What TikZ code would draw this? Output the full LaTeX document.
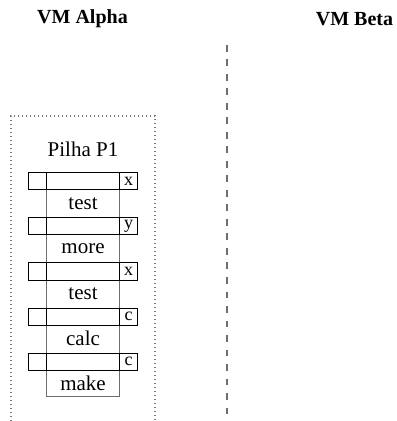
\documentclass[tikz,border=0pt]{standalone}
\usepackage{fontspec}
\setmainfont{Liberation Serif}
\usetikzlibrary{positioning,calc}
\definecolor{VMgray}{RGB}{110,110,110}
\definecolor{VMdot}{RGB}{120,120,120}
\tikzset{
  vmtitle/.style={font=\fontsize{10}{12}\selectfont\bfseries,inner sep=0pt},
  vmsep/.style={draw=VMgray,line width=0.55pt,dash pattern=on 3.4pt off 3.85pt},
  hostbox/.style={draw=VMdot,line width=0.6pt,dash pattern=on 0.5pt off 1.5pt},
  stackcol/.style={draw=VMgray,line width=0.5pt,minimum width=36.2pt,
                   minimum height=111.75pt,anchor=north,inner sep=0pt},
  frame/.style={draw=black,fill=white,line width=0.5pt,minimum width=54.2pt,
                minimum height=8.5pt,anchor=north,inner sep=0pt},
  framediv/.style={draw=black,line width=0.5pt},
  varlbl/.style={font=\fontsize{9}{10}\selectfont,inner sep=0pt},
  fnlbl/.style={font=\fontsize{10.5}{12}\selectfont,inner sep=0pt},
  stacklbl/.style={font=\fontsize{10.5}{12}\selectfont,inner sep=0pt}
}
\begin{document}
\begin{tikzpicture}[x=0.5pt,y=-0.5pt]
  \useasboundingbox (0,0) rectangle (396,421);
  % machines
  \node[vmtitle] (alpha) at (82.5,19) {VM Alpha};
  \node[vmtitle] (beta) at (354.5,19) {VM Beta};
  \coordinate (septop) at (227,45);
  \coordinate (sepbot) at (227,421);
  \draw[vmsep] (septop) -- (sepbot);
  % host of the stack
  \coordinate (hostsw) at (11,421);
  \coordinate (hostne) at (155,116);
  \draw[hostbox] (hostsw) |- (hostne) -- (hostne |- hostsw);
  \node[stacklbl] (pilha) at (83,149) {Pilha P1};
  % stack frames
  \node[stackcol] (stack) at (83,172.5) {};
  \foreach \var/\fn [count=\i] in {x/test,y/more,x/test,c/calc,c/make}{
    \node[frame] (f\i) at (83,{172.5+45*(\i-1)}) {};
    \draw[framediv] (f\i.north -| stack.west) -- (f\i.south -| stack.west);
    \draw[framediv] (f\i.north -| stack.east) -- (f\i.south -| stack.east);
    \node[varlbl] (v\i) at ($(f\i.east)!0.5!(f\i.east -| stack.east)$) {\var};
  }
  \foreach \fn [count=\i] in {test,more,test,calc}{
    \node[fnlbl] (n\i) at (83,{203.5+45*(\i-1)}) {\fn};
  }
  \node[fnlbl] (n5) at (83,383) {make};
\end{tikzpicture}
\end{document}
